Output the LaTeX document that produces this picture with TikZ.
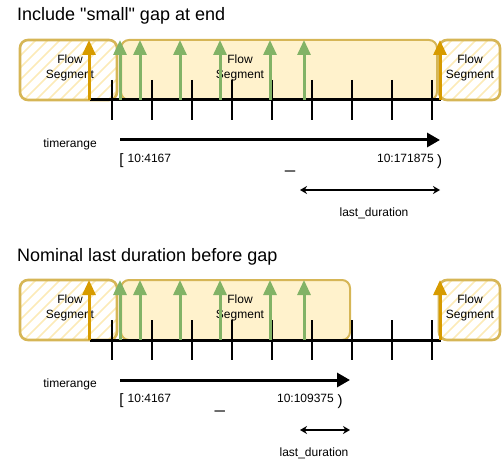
\documentclass[tikz,border=0pt]{standalone}
\usepackage{fontspec}
\setmainfont{Liberation Sans}[Ligatures=TeXOff]
\usetikzlibrary{arrows.meta}
\definecolor{gold}{HTML}{D6B656}
\definecolor{lightyel}{HTML}{FFF2CC}
\definecolor{hatchc}{HTML}{FCEBB8}
\definecolor{orangeA}{HTML}{D79B00}
\definecolor{greenA}{HTML}{82B366}
\begin{document}
\begin{tikzpicture}[x=1pt,y=-1pt,
  title/.style={anchor=base west,inner sep=0pt,font=\fontsize{18}{20}\selectfont},
  lbl/.style={inner sep=0pt,font=\fontsize{12}{14}\selectfont},
  seglbl/.style={align=center,inner sep=0pt,font=\fontsize{12}{14.5}\selectfont},
  brk/.style={inner sep=0pt,anchor=base,font=\fontsize{15}{17}\selectfont},
  uscore/.style={inner sep=0pt,anchor=base,font=\fontsize{18}{20}\selectfont},
  hatchbox/.style={draw=gold,line width=2.6pt,rounded corners=8pt},
  fillbox/.style={draw=gold,fill=lightyel,line width=2pt,rounded corners=8pt},
  hatchline/.style={draw=hatchc,line width=1.6pt},
  axis/.style={draw=black,line width=3pt},
  tickline/.style={draw=black,line width=1.2pt},
  garrow/.style={draw=greenA,line width=3pt,-{Triangle[length=15pt,width=13pt]}},
  oarrow/.style={draw=orangeA,line width=3pt,-{Triangle[length=15pt,width=13pt]}},
  tarrow/.style={draw=black,line width=3pt,-{Triangle[length=13pt,width=14pt]}},
  darrow/.style={draw=black,line width=1.2pt,{Stealth[length=7pt,width=8pt]}-{Stealth[length=7pt,width=8pt]}}
]
\useasboundingbox (0,0) rectangle (502,470);

% ================= Panel 1 =================
\node[title] (t1) at (17,21) {Include "small" gap at end};
% left hatched box
\begin{scope}
  \clip[rounded corners=8pt] (20,40) rectangle (117,100);
  \foreach \k in {-60,-48,...,110} \draw[hatchline] (\k,100) -- ++(60,-60);
\end{scope}
\draw[hatchbox] (20,40) rectangle (117,100);
% middle box
\draw[fillbox] (121,40) rectangle (437,100);
% right hatched box
\begin{scope}
  \clip[rounded corners=8pt] (439,40) rectangle (500,100);
  \foreach \k in {380,392,...,510} \draw[hatchline] (\k,100) -- ++(60,-60);
\end{scope}
\draw[hatchbox] (439,40) rectangle (500,100);
\node[seglbl] (s1a) at (70,68) {Flow\\Segment};
\node[seglbl] (s1b) at (240,68) {Flow\\Segment};
\node[seglbl] (s1c) at (470,68) {Flow\\Segment};
% axis and ticks
\coordinate (a1s) at (90,100); \coordinate (a1e) at (441,100);
\draw[axis] (a1s) -- (a1e);
\foreach \x in {112,152,...,432} \draw[tickline] (\x,80) -- (\x,120);
% arrows
\foreach \x in {120,140,180,220,270,304} \draw[garrow] (\x,100) -- (\x,40);
\draw[oarrow] (89,100) -- (89,40);
\draw[oarrow] (440,100) -- (440,40);
% timerange
\node[lbl] (tr1) at (70,144) {timerange};
\coordinate (tr1s) at (120,140); \coordinate (tr1e) at (440,140);
\draw[tarrow] (tr1s) -- (tr1e);
\node[brk] (b1l) at (121.5,164.5) {[};
\node[lbl,anchor=base west] (v1a) at (127.5,162.5) {10:4167};
\node[uscore] (u1) at (290,168) {\_};
\node[lbl,anchor=base east] (v1b) at (434,162.5) {10:171875};
\node[brk] (b1r) at (439.5,165.5) {)};
\coordinate (d1s) at (300,190); \coordinate (d1e) at (440,190);
\draw[darrow] (d1s) -- (d1e);
\node[lbl,anchor=base] (ld1) at (374,216) {last\_duration};

% ================= Panel 2 =================
\node[title] (t2) at (17,261) {Nominal last duration before gap};
\begin{scope}
  \clip[rounded corners=8pt] (20,280) rectangle (117,340);
  \foreach \k in {-60,-48,...,110} \draw[hatchline] (\k,340) -- ++(60,-60);
\end{scope}
\draw[hatchbox] (20,280) rectangle (117,340);
\draw[fillbox] (121,280) rectangle (350,340);
\begin{scope}
  \clip[rounded corners=8pt] (439,280) rectangle (500,340);
  \foreach \k in {380,392,...,510} \draw[hatchline] (\k,340) -- ++(60,-60);
\end{scope}
\draw[hatchbox] (439,280) rectangle (500,340);
\node[seglbl] (s2a) at (70,308) {Flow\\Segment};
\node[seglbl] (s2b) at (240,308) {Flow\\Segment};
\node[seglbl] (s2c) at (470,308) {Flow\\Segment};
\coordinate (a2s) at (90,340); \coordinate (a2e) at (441,340);
\draw[axis] (a2s) -- (a2e);
\foreach \x in {112,152,...,432} \draw[tickline] (\x,320) -- (\x,360);
\foreach \x in {120,140,180,220,270,304} \draw[garrow] (\x,340) -- (\x,280);
\draw[oarrow] (89,340) -- (89,280);
\draw[oarrow] (440,340) -- (440,280);
\node[lbl] (tr2) at (70,384) {timerange};
\coordinate (tr2s) at (120,380); \coordinate (tr2e) at (350,380);
\draw[tarrow] (tr2s) -- (tr2e);
\node[brk] (b2l) at (121.5,404.5) {[};
\node[lbl,anchor=base west] (v2a) at (127.5,402.5) {10:4167};
\node[uscore] (u2) at (220,408) {\_};
\node[lbl,anchor=base east] (v2b) at (334,402.5) {10:109375};
\node[brk] (b2r) at (340,405.5) {)};
\coordinate (d2s) at (300,430); \coordinate (d2e) at (350,430);
\draw[darrow] (d2s) -- (d2e);
\node[lbl,anchor=base] (ld2) at (314,456) {last\_duration};
\end{tikzpicture}
\end{document}
